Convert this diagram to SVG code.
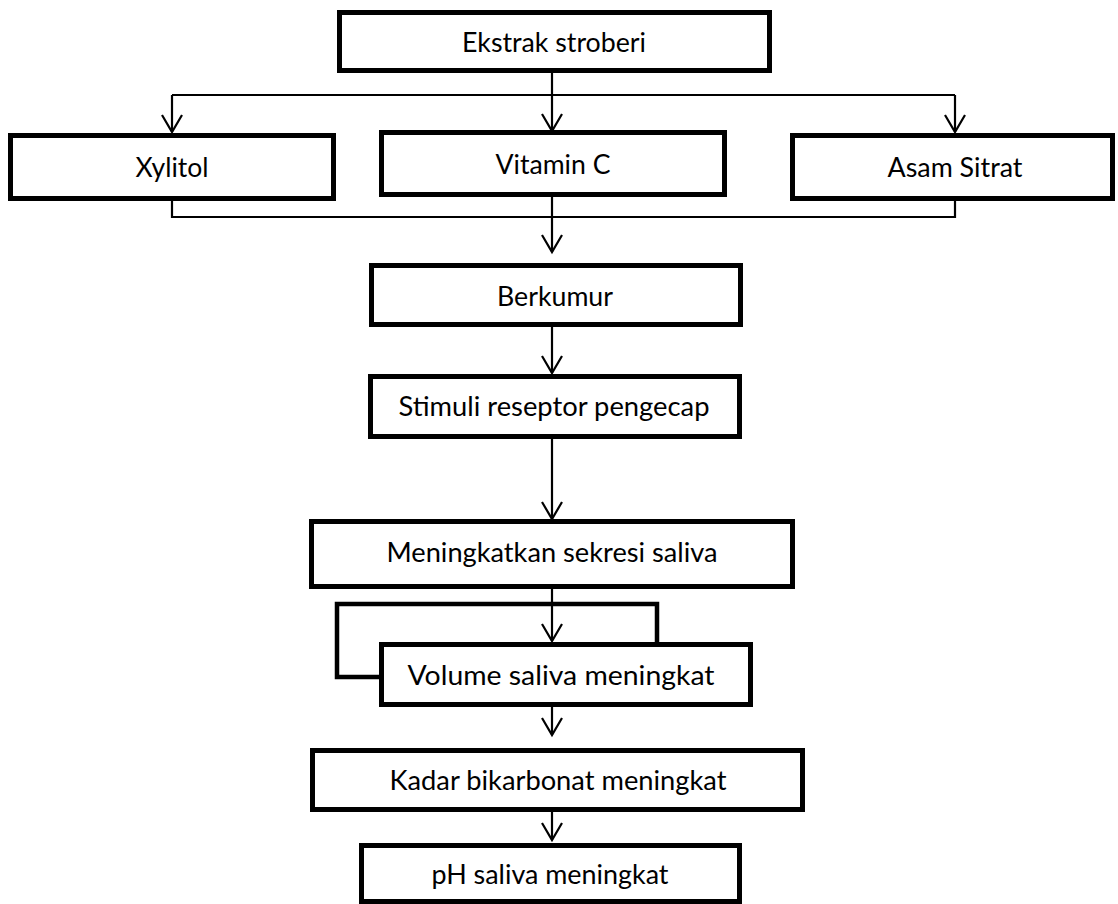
<svg xmlns="http://www.w3.org/2000/svg" width="1118" height="904" viewBox="0 0 1118 904">
<defs>
<marker id="arr" markerWidth="24" markerHeight="24" refX="11" refY="18" orient="0" markerUnits="userSpaceOnUse" viewBox="0 0 24 24">
<path d="M1,1 L11,18 L21,1" fill="none" stroke="#000" stroke-width="2.2"/>
</marker>
<style>
.box{fill:#fff;stroke:#000;stroke-width:5}
.t{font-family:Lato,"Liberation Sans",sans-serif;font-size:26px;fill:#000;text-anchor:middle}
.c{fill:none;stroke:#000;stroke-width:2.2}
.thick{fill:none;stroke:#000;stroke-width:4.5}
</style>
</defs>
<rect width="1118" height="904" fill="#fff"/>
<g id="connectors">
<path class="c" d="M552,73 V131" marker-end="url(#arr)"/>
<path class="c" d="M172,95 H955"/>
<path class="c" d="M172,95 V132" marker-end="url(#arr)"/>
<path class="c" d="M955,95 V132" marker-end="url(#arr)"/>
<path class="c" d="M172,201 V217 H955 V201"/>
<path class="c" d="M552,197 V252" marker-end="url(#arr)"/>
<path class="c" d="M552,327 V373" marker-end="url(#arr)"/>
<path class="c" d="M552,439 V519" marker-end="url(#arr)"/>
<path class="thick" d="M381,677 H337 V604 H657 V644"/>
<path class="c" d="M552,589 V641" marker-end="url(#arr)"/>
<path class="c" d="M552,707 V735" marker-end="url(#arr)"/>
<path class="c" d="M552,812 V840" marker-end="url(#arr)"/>
</g>
<g id="n-ekstrak"><rect class="box" x="339.5" y="12.5" width="430" height="58"/><text class="t" x="554" y="52" textLength="184" lengthAdjust="spacingAndGlyphs">Ekstrak stroberi</text></g>
<g id="n-xylitol"><rect class="box" x="10.5" y="135.5" width="323" height="63"/><text class="t" x="172" y="177" textLength="73" lengthAdjust="spacingAndGlyphs">Xylitol</text></g>
<g id="n-vitc"><rect class="box" x="381.5" y="132.5" width="343" height="62"/><text class="t" x="553" y="174" textLength="115" lengthAdjust="spacingAndGlyphs">Vitamin C</text></g>
<g id="n-asam"><rect class="box" x="792.5" y="135.5" width="320" height="63"/><text class="t" x="955" y="177" textLength="135" lengthAdjust="spacingAndGlyphs">Asam Sitrat</text></g>
<g id="n-berkumur"><rect class="box" x="371.5" y="265.5" width="369" height="59"/><text class="t" x="555" y="306" textLength="116" lengthAdjust="spacingAndGlyphs">Berkumur</text></g>
<g id="n-stimuli"><rect class="box" x="370.5" y="376.5" width="369" height="60"/><text class="t" x="554" y="416" textLength="311" lengthAdjust="spacingAndGlyphs">Stimuli reseptor pengecap</text></g>
<g id="n-sekresi"><rect class="box" x="311.5" y="521.5" width="481" height="65"/><text class="t" x="552" y="562" textLength="331" lengthAdjust="spacingAndGlyphs">Meningkatkan sekresi saliva</text></g>
<g id="n-volume"><rect class="box" x="381.5" y="644.5" width="369" height="60"/><text class="t" x="561" y="685" textLength="307" lengthAdjust="spacingAndGlyphs">Volume saliva meningkat</text></g>
<g id="n-kadar"><rect class="box" x="312.5" y="750.5" width="490" height="59"/><text class="t" x="558" y="790" textLength="337" lengthAdjust="spacingAndGlyphs">Kadar bikarbonat meningkat</text></g>
<g id="n-ph"><rect class="box" x="361.5" y="845.5" width="378" height="56"/><text class="t" x="550" y="884" textLength="237" lengthAdjust="spacingAndGlyphs">pH saliva meningkat</text></g>
</svg>
